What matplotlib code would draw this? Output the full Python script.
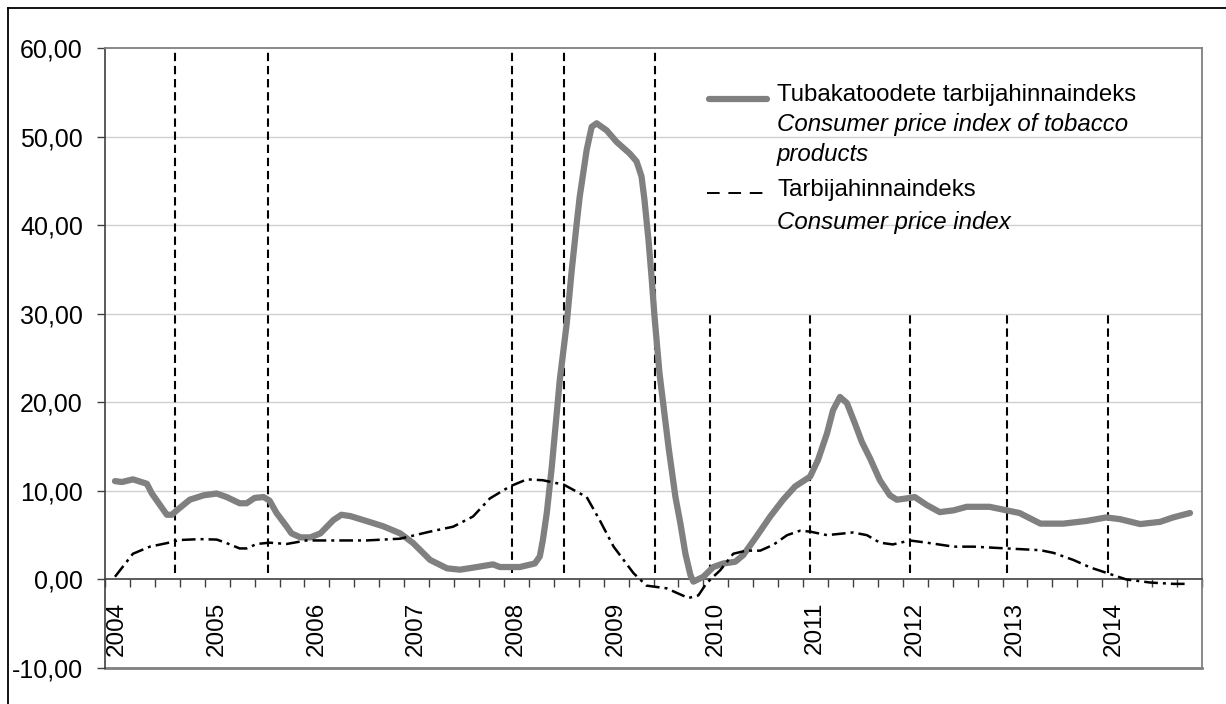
import matplotlib.pyplot as plt
from matplotlib.lines import Line2D
from matplotlib.ticker import FuncFormatter, MultipleLocator, FixedLocator

plt.rcParams['font.family'] = ['Liberation Sans', 'DejaVu Sans']

# tubakatoodete tarbijahinnaindeks
tob_x = [2004.10, 2004.17, 2004.28, 2004.42, 2004.47, 2004.62, 2004.67, 2004.72, 2004.85, 2004.99,
         2005.12, 2005.22, 2005.35, 2005.42, 2005.50, 2005.59, 2005.65, 2005.72, 2005.82, 2005.87,
         2005.96, 2006.06, 2006.16, 2006.29, 2006.37, 2006.46, 2006.62, 2006.79, 2006.96, 2007.09,
         2007.26, 2007.43, 2007.56, 2007.73, 2007.89, 2007.96, 2008.16, 2008.31, 2008.36, 2008.39,
         2008.43, 2008.48, 2008.53, 2008.56, 2008.63, 2008.68, 2008.73, 2008.76, 2008.83, 2008.88,
         2008.93, 2009.03, 2009.13, 2009.26, 2009.33, 2009.38, 2009.41, 2009.45, 2009.48, 2009.51,
         2009.56, 2009.65, 2009.72, 2009.77, 2009.82, 2009.87, 2009.90, 2010.00, 2010.10, 2010.20,
         2010.32, 2010.40, 2010.53, 2010.67, 2010.80, 2010.92, 2011.07, 2011.15, 2011.24, 2011.30,
         2011.37, 2011.44, 2011.52, 2011.59, 2011.67, 2011.77, 2011.87, 2011.94, 2012.04, 2012.12,
         2012.24, 2012.37, 2012.51, 2012.64, 2012.87, 2013.04, 2013.17, 2013.38, 2013.61, 2013.84,
         2014.04, 2014.18, 2014.38, 2014.58, 2014.71, 2014.88]
tob_v = [11.1, 11.0, 11.3, 10.8, 9.7, 7.3, 7.3, 7.8, 9.0, 9.5,
         9.7, 9.3, 8.6, 8.6, 9.2, 9.3, 8.9, 7.5, 6.0, 5.2,
         4.75, 4.75, 5.2, 6.7, 7.3, 7.15, 6.6, 6.0, 5.2, 4.1,
         2.2, 1.25, 1.1, 1.4, 1.7, 1.4, 1.4, 1.8, 2.6, 4.4,
         7.5, 12.7, 18.8, 22.5, 28.9, 34.9, 40.2, 43.2, 48.5, 51.1,
         51.5, 50.7, 49.4, 48.1, 47.2, 45.5, 42.8, 38.3, 34.2, 29.7,
         23.3, 15.0, 9.3, 6.3, 2.9, 0.5, -0.25, 0.3, 1.4, 1.8,
         2.0, 2.75, 4.8, 7.1, 9.0, 10.5, 11.6, 13.5, 16.5, 19.1,
         20.6, 19.9, 17.6, 15.5, 13.7, 11.2, 9.5, 9.0, 9.15, 9.3,
         8.4, 7.6, 7.8, 8.2, 8.2, 7.8, 7.5, 6.3, 6.3, 6.6,
         7.0, 6.8, 6.25, 6.5, 7.0, 7.5]

# tarbijahinnaindeks
cpi_x = [2004.10, 2004.28, 2004.45, 2004.62, 2004.75, 2004.95, 2005.12, 2005.22, 2005.35, 2005.42,
         2005.52, 2005.65, 2005.82, 2006.02, 2006.29, 2006.62, 2006.96, 2007.26, 2007.49, 2007.69,
         2007.86, 2008.06, 2008.23, 2008.39, 2008.60, 2008.83, 2008.96, 2009.10, 2009.30, 2009.43,
         2009.63, 2009.85, 2009.95, 2010.03, 2010.17, 2010.30, 2010.43, 2010.57, 2010.70, 2010.84,
         2010.97, 2011.07, 2011.24, 2011.50, 2011.64, 2011.77, 2011.90, 2012.07, 2012.24, 2012.51,
         2012.71, 2013.04, 2013.38, 2013.51, 2013.71, 2013.88, 2014.04, 2014.24, 2014.48, 2014.71,
         2014.86]
cpi_v = [0.3, 2.9, 3.7, 4.1, 4.45, 4.55, 4.5, 4.1, 3.5, 3.5,
         4.0, 4.15, 4.0, 4.4, 4.4, 4.4, 4.6, 5.4, 5.95, 7.1,
         9.15, 10.5, 11.3, 11.2, 10.7, 9.3, 6.7, 3.7, 0.7, -0.7,
         -1.0, -2.1, -1.8, -0.45, 1.05, 2.9, 3.25, 3.25, 3.9, 5.0,
         5.5, 5.4, 5.0, 5.3, 5.0, 4.15, 3.95, 4.4, 4.15, 3.7,
         3.7, 3.5, 3.3, 3.0, 2.2, 1.35, 0.75, 0.0, -0.35, -0.5,
         -0.5]

# aktsiisimuudatused (vertical dashed markers)
event_x = [2004.70, 2005.63, 2008.08, 2008.60, 2009.52, 2010.07, 2011.07, 2012.07, 2013.04, 2014.06]
event_top = [60, 60, 60, 60, 59.5, 30, 30, 30, 30, 30]

years = list(range(2004, 2015))
quarters = [2004 + q / 4 for q in range(45)]

W, H = 1226, 704
fig = plt.figure(figsize=(W / 100, H / 100), dpi=100)
ax = fig.add_axes([105 / W, 1 - 668 / H, (1202 - 105) / W, (668 - 48) / H])

ax.set_xlim(2004, 2015)
ax.set_ylim(-10, 60)

for y in range(10, 60, 10):
    ax.axhline(y, color='#d0d0d0', lw=1, zorder=0)

ax.vlines(event_x, 0.7, event_top, colors='black', lw=1.5,
          linestyles=(0, (4, 2.3)), zorder=2)

ax.plot(tob_x, tob_v, color='#808080', lw=4.5, solid_joinstyle='round',
        solid_capstyle='round', zorder=3)
ax.plot(cpi_x, cpi_v, color='black', lw=1.8, linestyle=(0, (5.5, 2, 1.2, 2)), zorder=4)

# axes frame
for side in ['top', 'right']:
    ax.spines[side].set_color('#808080')
    ax.spines[side].set_linewidth(1.3)
ax.spines['left'].set_color('#404040')
ax.spines['left'].set_linewidth(1.2)
ax.spines['bottom'].set_position(('data', 0))
ax.spines['bottom'].set_color('#404040')
ax.spines['bottom'].set_linewidth(1.2)
ax.axhline(-10, color='#808080', lw=2, clip_on=False, zorder=1)

ax.yaxis.set_major_locator(MultipleLocator(10))
ax.yaxis.set_major_formatter(FuncFormatter(lambda v, p: f'{v:.2f}'.replace('.', ',')))
ax.tick_params(axis='y', direction='out', length=6, width=1, color='#404040',
               labelsize=18, pad=10)

ax.xaxis.set_minor_locator(FixedLocator(quarters))
ax.xaxis.set_major_locator(FixedLocator([y + 0.12 for y in years]))
ax.set_xticklabels([str(y) for y in years], rotation=90)
ax.tick_params(axis='x', which='major', length=0, labelsize=17.5, pad=16)
ax.tick_params(axis='x', which='minor', direction='out', length=5.5, width=1, color='#404040')

# legend drawn by hand (mixed upright / italic lines)
def fx(px):
    return px / W

def fy(py):
    return 1 - py / H

fig.add_artist(Line2D([fx(709), fx(767)], [fy(99), fy(99)], color='#808080', lw=4.5,
                      solid_capstyle='round'))
fig.add_artist(Line2D([fx(707), fx(764)], [fy(193), fy(193)], color='black', lw=1.4,
                      linestyle=(0, (6.5, 4.5))))
legend_lines = [
    ('Tubakatoodete tarbijahinnaindeks', 'normal', 95),
    ('Consumer price index of tobacco', 'italic', 124),
    ('products', 'italic', 154),
    ('Tarbijahinnaindeks', 'normal', 190),
    ('Consumer price index', 'italic', 222),
]
for txt, style, py in legend_lines:
    fig.text(fx(777), fy(py), txt, fontsize=17.3, style=style, ha='left', va='center')

# outer chart border
fig.add_artist(Line2D([fx(7.5), fx(7.5)], [fy(7.5), 0], color='black', lw=1.3))
fig.add_artist(Line2D([fx(7.5), 1], [fy(7.5), fy(7.5)], color='black', lw=1.3))

fig.savefig('out.png', dpi=100)
